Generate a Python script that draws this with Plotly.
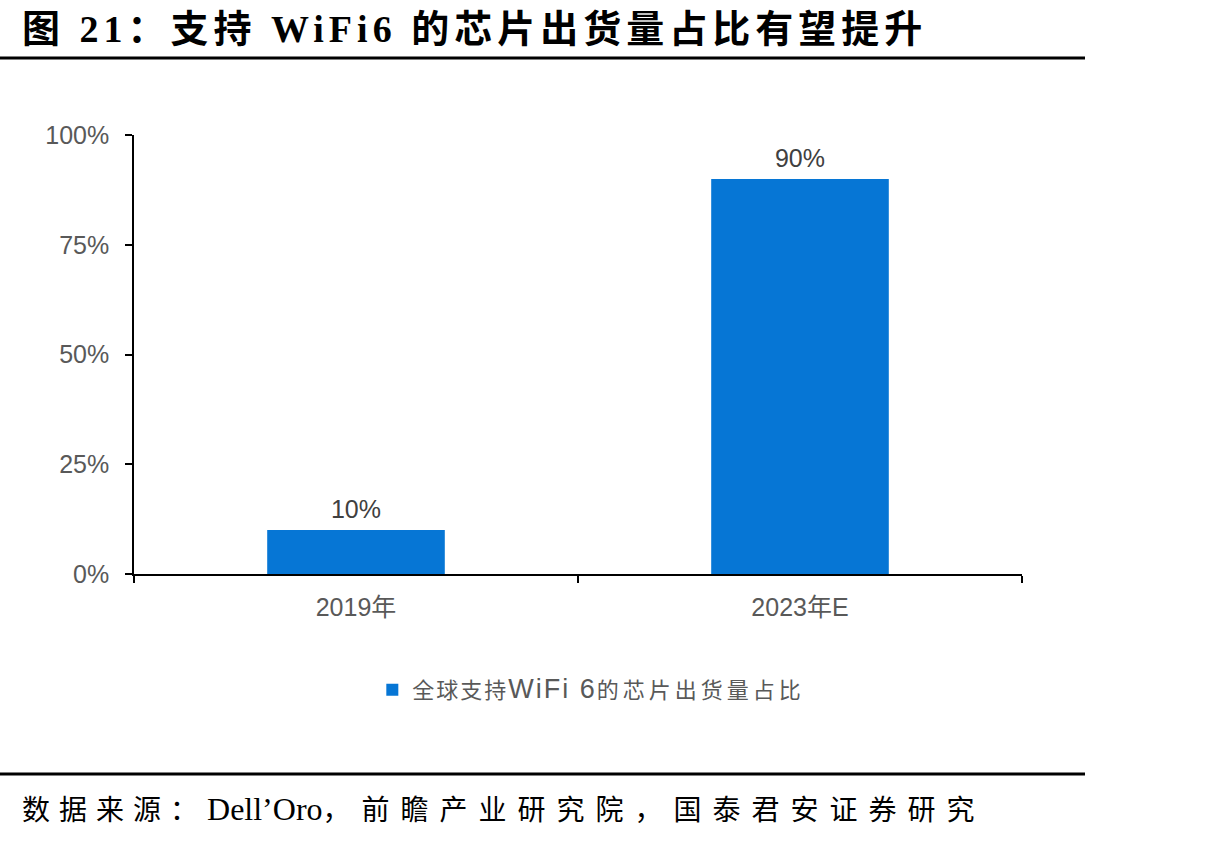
import plotly.graph_objects as go

categories = ["2019年", "2023年E"]
values = [0.10, 0.90]
value_labels = ["10%", "90%"]
y_ticks = [0, 0.25, 0.5, 0.75, 1.0]
y_tick_labels = ["0%", "25%", "50%", "75%", "100%"]
series_name = "全球支持WiFi 6的芯片出货量占比"
title_text = "图 21：支持 WiFi6 的芯片出货量占比有望提升"
source_parts = ["数据来源：", "Dell’Oro", "，前瞻产业研究院，国泰君安证券研究"]

L, R, T, B = 134, 192, 135, 270
W, H = 1214, 844
pw, ph = W - L - R, H - T - B

def px(x):
    return (x - L) / pw

def py(y):
    return (H - B - y) / ph

legend_html = (
    '<span style="letter-spacing:2px">全球支持</span>'
    '<span style="font-family:Liberation Sans;font-size:27px;letter-spacing:2px">WiFi 6</span>'
    '<span style="letter-spacing:4px">的芯片出货量占比</span>'
)

fig = go.Figure()
fig.add_trace(go.Bar(
    x=categories, y=values, name=legend_html,
    marker=dict(color="#0676D5", line=dict(width=0)),
    width=0.4,
    hoverinfo="skip",
))
fig.add_trace(go.Scatter(
    x=categories, y=values, mode="text+markers",
    marker=dict(size=8, color="rgba(0,0,0,0)"),
    text=value_labels, textposition="top center",
    textfont=dict(family="Liberation Sans, Arial", size=25, color="#404040"),
    showlegend=False, cliponaxis=False, hoverinfo="skip",
))

fig.update_layout(
    width=W, height=H,
    margin=dict(l=L, r=R, t=T, b=B),
    paper_bgcolor="white", plot_bgcolor="white",
    showlegend=True,
    legend=dict(orientation="h", x=0.515, y=py(690), xanchor="center", yanchor="middle",
                font=dict(family="Noto Sans CJK SC", size=22, color="#595959"),
                itemwidth=30),
)
fig.update_xaxes(
    showline=True, linecolor="#000000", linewidth=1.5,
    ticks="outside", ticklen=7, tickcolor="#000000", tickwidth=1.5,
    tickson="boundaries", ticklabelstandoff=10,
    tickfont=dict(family="Liberation Sans, Noto Sans CJK SC", size=25, color="#595959"),
    showgrid=False,
)
fig.update_yaxes(
    range=[0, 1], tickvals=y_ticks, ticktext=y_tick_labels,
    showline=True, linecolor="#000000", linewidth=1.5,
    ticks="outside", ticklen=7, tickcolor="#000000", tickwidth=1.5,
    ticklabelstandoff=11,
    tickfont=dict(family="Liberation Sans, Arial", size=25, color="#595959"),
    showgrid=False, zeroline=False,
)

fig.add_shape(type="line", xref="paper", yref="paper",
              x0=px(0), x1=px(1085), y0=py(58), y1=py(58),
              line=dict(color="black", width=3))
fig.add_shape(type="line", xref="paper", yref="paper",
              x0=px(0), x1=px(1085), y0=py(774), y1=py(774),
              line=dict(color="black", width=3))

fig.add_annotation(xref="paper", yref="paper", x=px(20), y=py(29),
                   xanchor="left", yanchor="middle", showarrow=False,
                   text='<b><span style="letter-spacing:5px">' + title_text + '</span></b>',
                   font=dict(family="Liberation Serif, Noto Sans CJK SC", size=38, color="black"))
source_html = (
    '<span style="letter-spacing:9px">' + source_parts[0] + '</span>'
    '<span style="font-size:32px">' + source_parts[1] + '</span>'
    '<span style="letter-spacing:11px">' + source_parts[2] + '</span>'
)
fig.add_annotation(xref="paper", yref="paper", x=px(20), y=py(809),
                   xanchor="left", yanchor="middle", showarrow=False,
                   text=source_html,
                   font=dict(family="Liberation Serif, Noto Sans CJK SC", size=28, color="black"))

fig.write_html("out.html")
